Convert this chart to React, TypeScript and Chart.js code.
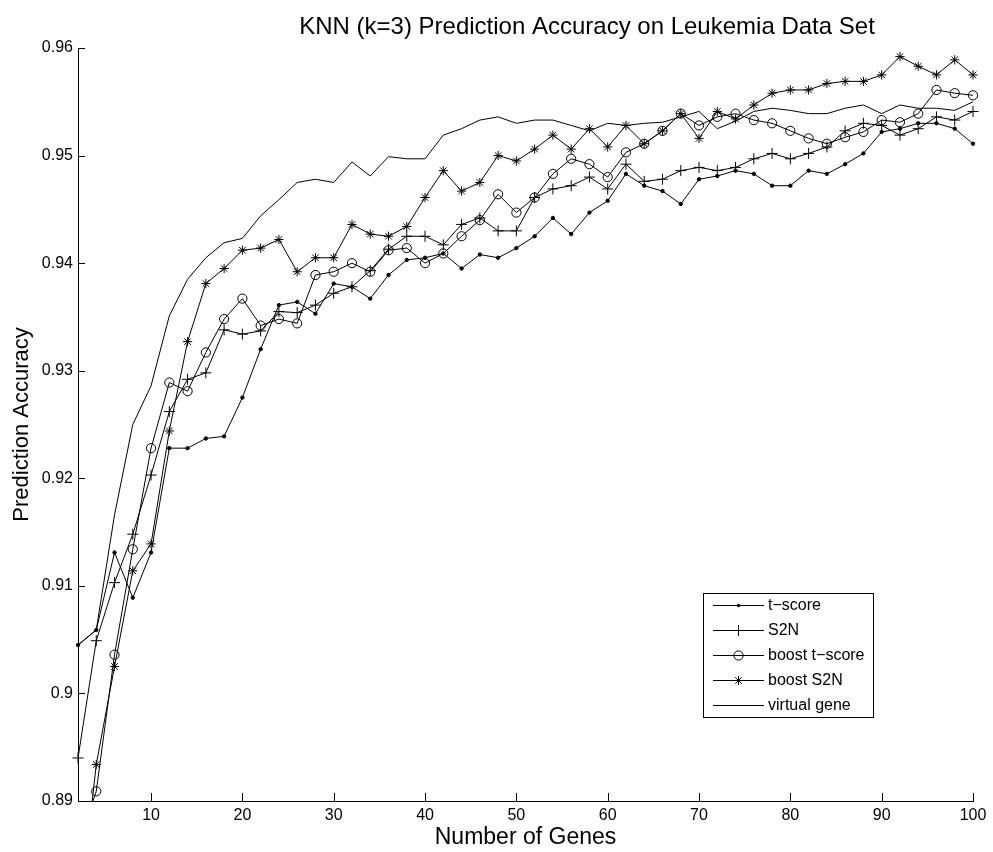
import React, { useEffect, useRef } from 'react';
import { Chart, registerables } from 'chart.js';

Chart.register(...registerables);

// Number of genes used by the classifier
const geneCounts = [
  2, 4, 6, 8, 10, 12, 14, 16, 18, 20, 22, 24, 26, 28, 30, 32, 34, 36, 38, 40,
  42, 44, 46, 48, 50, 52, 54, 56, 58, 60, 62, 64, 66, 68, 70, 72, 74, 76, 78, 80,
  82, 84, 86, 88, 90, 92, 94, 96, 98, 100,
];

const tScore = [
  0.9045, 0.9059, 0.9131, 0.9089, 0.9131, 0.9228, 0.9228, 0.9237, 0.9239, 0.9275,
  0.932, 0.9361, 0.9364, 0.9353, 0.9381, 0.9378, 0.9367, 0.9389, 0.9403, 0.9405,
  0.9409, 0.9395, 0.9408, 0.9405, 0.9414, 0.9425, 0.9442, 0.9427, 0.9447, 0.9458,
  0.9483, 0.9472, 0.9467, 0.9455, 0.9478, 0.9481, 0.9486, 0.9483, 0.9472, 0.9472,
  0.9486, 0.9483, 0.9492, 0.9502, 0.9522, 0.9525, 0.953, 0.953, 0.9525, 0.9511,
];

const s2n = [
  0.894, 0.9049, 0.9103, 0.9148, 0.9203, 0.9262, 0.9292, 0.9298, 0.9338, 0.9334,
  0.9337, 0.9355, 0.9354, 0.9361, 0.9372, 0.9378, 0.9393, 0.9413, 0.9425, 0.9425,
  0.9417, 0.9436, 0.9442, 0.943, 0.943, 0.9461, 0.9469, 0.9472, 0.948, 0.9469,
  0.9492, 0.9476, 0.9478, 0.9486, 0.9489, 0.9486, 0.9489, 0.9497, 0.9502, 0.9497,
  0.9502, 0.9508, 0.9523, 0.953, 0.9528, 0.9519, 0.9525, 0.9536, 0.9533, 0.9541,
];

const boostTScore = [
  0.886, 0.8909, 0.9036, 0.9134, 0.9228, 0.9289, 0.9281, 0.9317, 0.9348, 0.9367,
  0.9342, 0.9348, 0.9344, 0.9389, 0.9392, 0.94, 0.9392, 0.9412, 0.9414, 0.94,
  0.9409, 0.9425, 0.944, 0.9464, 0.9447, 0.9461, 0.9483, 0.9497, 0.9492, 0.948,
  0.9503, 0.9511, 0.9523, 0.9539, 0.9528, 0.9536, 0.9539, 0.9533, 0.953, 0.9523,
  0.9516, 0.9511, 0.9517, 0.9522, 0.9533, 0.9531, 0.9539, 0.9561, 0.9558, 0.9556,
];

const boostS2n = [
  0.878, 0.8934, 0.9025, 0.9114, 0.9139, 0.9244, 0.9327, 0.9381, 0.9395, 0.9412,
  0.9414, 0.9422, 0.9392, 0.9405, 0.9405, 0.9436, 0.9427, 0.9425, 0.9434, 0.9461,
  0.9486, 0.9467, 0.9475, 0.95, 0.9495, 0.9506, 0.9519, 0.9506, 0.9525, 0.9508,
  0.9528, 0.9511, 0.9523, 0.9539, 0.9516, 0.9541, 0.9534, 0.9547, 0.9558, 0.9561,
  0.9561, 0.9567, 0.9569, 0.9569, 0.9575, 0.9592, 0.9583, 0.9575, 0.9589, 0.9575,
];

const virtualGene = [
  0.9045, 0.9059, 0.9166, 0.925, 0.9286, 0.9351, 0.9385, 0.9405, 0.9419, 0.9423,
  0.9444, 0.9459, 0.9475, 0.9478, 0.9475, 0.9494, 0.9481, 0.9499, 0.9497, 0.9497,
  0.9519, 0.9525, 0.9533, 0.9536, 0.953, 0.9533, 0.9533, 0.9528, 0.9523, 0.953,
  0.9528, 0.953, 0.9531, 0.9536, 0.9541, 0.9525, 0.9532, 0.9541, 0.9544, 0.9542,
  0.9539, 0.9539, 0.9544, 0.9547, 0.9539, 0.9547, 0.9544, 0.9544, 0.9542, 0.955,
];

const xTicks = [10, 20, 30, 40, 50, 60, 70, 80, 90, 100];
const yTicks = [0.89, 0.9, 0.91, 0.92, 0.93, 0.94, 0.95, 0.96];

const seriesLabels = ['t\u2212score', 'S2N', 'boost t\u2212score', 'boost S2N', 'virtual gene'];
const seriesMarkers = ['dot', 'plus', 'ring', 'asterisk', 'none'];

const titleText = 'KNN (k=3) Prediction Accuracy on Leukemia Data Set';
const xTitle = 'Number of Genes';
const yTitle = 'Prediction Accuracy';

const FONT = '"Liberation Sans", Arial, Helvetica, sans-serif';

type Marker = 'dot' | 'plus' | 'ring' | 'asterisk' | 'none';

function markerStyle(m: Marker) {
  switch (m) {
    case 'dot':
      return { pointStyle: 'circle', pointRadius: 1.7, pointBackgroundColor: '#000' };
    case 'plus':
      return { pointStyle: 'cross', pointRadius: 5.5, pointBackgroundColor: '#000' };
    case 'ring':
      return { pointStyle: 'circle', pointRadius: 4.6, pointBackgroundColor: 'rgba(0,0,0,0)' };
    case 'asterisk':
      return { pointStyle: 'star', pointRadius: 4.6, pointBackgroundColor: '#000' };
    default:
      return { pointStyle: 'circle', pointRadius: 0, pointBackgroundColor: '#000' };
  }
}

function drawMarker(ctx: CanvasRenderingContext2D, m: Marker, x: number, y: number) {
  ctx.save();
  ctx.strokeStyle = '#000';
  ctx.fillStyle = '#000';
  ctx.lineWidth = 1;
  ctx.beginPath();
  if (m === 'dot') {
    ctx.arc(x, y, 1.7, 0, Math.PI * 2);
    ctx.fill();
  } else if (m === 'plus') {
    ctx.moveTo(x - 5.5, y);
    ctx.lineTo(x + 5.5, y);
    ctx.moveTo(x, y - 5.5);
    ctx.lineTo(x, y + 5.5);
    ctx.stroke();
  } else if (m === 'ring') {
    ctx.arc(x, y, 4.6, 0, Math.PI * 2);
    ctx.stroke();
  } else if (m === 'asterisk') {
    const r = 4.6;
    const d = r * Math.SQRT1_2;
    ctx.moveTo(x - r, y);
    ctx.lineTo(x + r, y);
    ctx.moveTo(x, y - r);
    ctx.lineTo(x, y + r);
    ctx.moveTo(x - d, y - d);
    ctx.lineTo(x + d, y + d);
    ctx.moveTo(x - d, y + d);
    ctx.lineTo(x + d, y - d);
    ctx.stroke();
  }
  ctx.restore();
}

// Inward tick marks, titles and the boxed legend in the lower right of the axes
const decorations = {
  id: 'decorations',
  afterDraw(chart: any) {
    const { ctx, chartArea, scales } = chart;
    const { left, right, top, bottom } = chartArea;
    ctx.save();
    ctx.strokeStyle = '#000';
    ctx.lineWidth = 1;
    ctx.beginPath();
    for (const v of yTicks) {
      const py = Math.round(scales.y.getPixelForValue(v)) + 0.5;
      ctx.moveTo(left, py);
      ctx.lineTo(left + 7, py);
    }
    for (const v of xTicks) {
      const px = Math.round(scales.x.getPixelForValue(v)) + 0.5;
      ctx.moveTo(px, bottom);
      ctx.lineTo(px, bottom - 8);
    }
    ctx.stroke();

    const cx = (left + right) / 2;
    ctx.fillStyle = '#000';
    ctx.textAlign = 'center';
    ctx.textBaseline = 'middle';
    ctx.font = `24px ${FONT}`;
    ctx.fillText(titleText, 587, 27);
    ctx.font = `23px ${FONT}`;
    ctx.fillText(xTitle, cx, 838);
    ctx.save();
    ctx.font = `22px ${FONT}`;
    ctx.translate(22, (top + bottom) / 2);
    ctx.rotate(-Math.PI / 2);
    ctx.fillText(yTitle, 0, 0);
    ctx.restore();

    // legend
    const lx = 703;
    const ly = 593;
    const lw = 170;
    const lh = 124;
    ctx.fillStyle = '#fff';
    ctx.fillRect(lx, ly, lw, lh);
    ctx.strokeStyle = '#000';
    ctx.strokeRect(lx + 0.5, ly + 0.5, lw, lh);
    const rowH = lh / seriesLabels.length;
    ctx.font = `16px ${FONT}`;
    ctx.textAlign = 'left';
    seriesLabels.forEach((label, i) => {
      const yy = Math.round(ly + rowH * (i + 0.5)) + 0.5;
      ctx.beginPath();
      ctx.strokeStyle = '#000';
      ctx.moveTo(lx + 10, yy);
      ctx.lineTo(lx + 61, yy);
      ctx.stroke();
      drawMarker(ctx, seriesMarkers[i] as Marker, lx + 35.5, yy);
      ctx.fillStyle = '#000';
      ctx.fillText(label, lx + 65, yy);
    });
    ctx.restore();
  },
};

export default function App() {
  const canvasRef = useRef<HTMLCanvasElement | null>(null);

  useEffect(() => {
    document.body.style.margin = '0';
    const canvas = canvasRef.current;
    if (!canvas) return;

    const seriesValues = [tScore, s2n, boostTScore, boostS2n, virtualGene];
    const datasets = seriesValues.map((vals, i) => ({
      label: seriesLabels[i],
      data: vals.map((v, j) => ({ x: geneCounts[j], y: v })),
      borderColor: '#000',
      borderWidth: 1,
      pointBorderColor: '#000',
      pointBorderWidth: 1,
      pointHoverRadius: 0,
      tension: 0,
      fill: false,
      clip: { left: 10, top: 10, right: 10, bottom: 0 },
      ...markerStyle(seriesMarkers[i] as Marker),
    }));

    const chart = new Chart(canvas, {
      type: 'line',
      data: { datasets } as any,
      options: {
        animation: false,
        responsive: false,
        maintainAspectRatio: false,
        layout: { padding: { top: 48, right: 20, left: 0, bottom: 0 } },
        plugins: {
          legend: { display: false },
          title: { display: false },
          tooltip: { enabled: false },
        },
        scales: {
          x: {
            type: 'linear',
            min: 2,
            max: 100,
            afterBuildTicks: (axis: any) => {
              axis.ticks = xTicks.map((v) => ({ value: v }));
            },
            afterFit: (s: any) => {
              s.height = 51;
            },
            grid: { display: false, drawTicks: false },
            border: { display: true, color: '#000', width: 1 },
            ticks: {
              color: '#000',
              font: { family: FONT, size: 16 },
              padding: 5,
              maxRotation: 0,
              autoSkip: false,
            },
          },
          y: {
            type: 'linear',
            min: 0.89,
            max: 0.96,
            afterBuildTicks: (axis: any) => {
              axis.ticks = yTicks.map((v) => ({ value: v }));
            },
            afterFit: (s: any) => {
              s.width = 78;
            },
            grid: { display: false, drawTicks: false },
            border: { display: true, color: '#000', width: 1 },
            ticks: {
              color: '#000',
              font: { family: FONT, size: 16 },
              padding: 5,
              autoSkip: false,
              callback: (v: any) => String(Number(Number(v).toFixed(2))),
            },
          },
        },
      } as any,
      plugins: [decorations],
    });

    return () => chart.destroy();
  }, []);

  return (
    <div style={{ width: 993, height: 852 }}>
      <canvas ref={canvasRef} width={993} height={852} style={{ display: 'block' }} />
    </div>
  );
}
